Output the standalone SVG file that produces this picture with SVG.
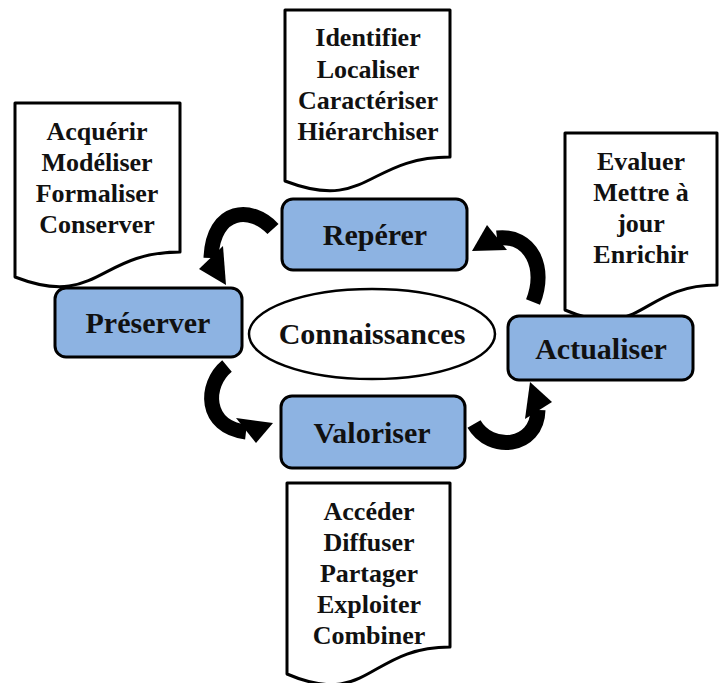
<svg xmlns="http://www.w3.org/2000/svg" width="719" height="683" viewBox="0 0 719 683">
<style>
.doc{fill:#fff;stroke:#000;stroke-width:3;stroke-linejoin:round}
.dt{font-family:"Liberation Serif","Times New Roman",serif;font-weight:bold;font-size:26px;fill:#111;text-anchor:middle}
.box{fill:#8DB3E2;stroke:#000;stroke-width:3}
.bt{font-family:"Liberation Serif","Times New Roman",serif;font-weight:bold;font-size:30px;fill:#111;text-anchor:middle}
.shaft{fill:none;stroke:#000;stroke-width:15;stroke-linecap:butt}
.head{fill:#000}
</style>
<rect width="719" height="683" fill="#fff"/>
<g id="doc-reperer">
<path class="doc" d="M285,10 H450 V157 C367.5,157 367.5,212.7 285,181 Z"/>
<text class="dt" x="368" y="46">Identifier</text>
<text class="dt" x="368" y="78">Localiser</text>
<text class="dt" x="368" y="109">Caractériser</text>
<text class="dt" x="368" y="140">Hiérarchiser</text>
</g>
<g id="doc-preserver">
<path class="doc" d="M15,103 H180 V252 C97.5,252 97.5,309 15,277 Z"/>
<text class="dt" x="97" y="140">Acquérir</text>
<text class="dt" x="97" y="171">Modéliser</text>
<text class="dt" x="97" y="202">Formaliser</text>
<text class="dt" x="97" y="233">Conserver</text>
</g>
<g id="doc-actualiser">
<path class="doc" d="M565,133 H717 V285 C641,285 641,343 565,310 Z"/>
<text class="dt" x="641" y="170">Evaluer</text>
<text class="dt" x="641" y="201">Mettre à</text>
<text class="dt" x="641" y="232">jour</text>
<text class="dt" x="641" y="263">Enrichir</text>
</g>
<g id="doc-valoriser">
<path class="doc" d="M287,483 H450 V647 C368.5,647 368.5,709 287,674 Z"/>
<text class="dt" x="369" y="520">Accéder</text>
<text class="dt" x="369" y="551">Diffuser</text>
<text class="dt" x="369" y="582">Partager</text>
<text class="dt" x="369" y="613">Exploiter</text>
<text class="dt" x="369" y="644">Combiner</text>
</g>
<g id="connectors">
<path class="shaft" d="M273,229 C252,206 213,207 211,258"/>
<polygon class="head" points="199,269 223,246 226,285"/>
<path class="shaft" d="M533,302 C547,268 531,234 497,238"/>
<polygon class="head" points="487,225 507,250 472,251"/>
<path class="shaft" d="M227,366 C204,385 204,427 246,432"/>
<polygon class="head" points="236,418 256,443 273,423"/>
<path class="shaft" d="M474,424 C490,452 537,449 538,410"/>
<polygon class="head" points="525,419 552,402 530,382"/>
</g>
<g id="connaissances">
<ellipse cx="372" cy="334" rx="123" ry="45" fill="#fff" stroke="#000" stroke-width="2.5"/>
<text class="bt" x="372" y="344">Connaissances</text>
</g>
<g id="reperer">
<rect class="box" x="282" y="199" width="185" height="71" rx="11"/>
<text class="bt" x="375" y="245">Repérer</text>
</g>
<g id="preserver">
<rect class="box" x="55" y="288" width="187" height="69" rx="11"/>
<text class="bt" x="148" y="333">Préserver</text>
</g>
<g id="actualiser">
<rect class="box" x="508" y="316" width="185" height="64" rx="11"/>
<text class="bt" x="601" y="359">Actualiser</text>
</g>
<g id="valoriser">
<rect class="box" x="281" y="396" width="184" height="72" rx="11"/>
<text class="bt" x="372" y="443">Valoriser</text>
</g>
</svg>
